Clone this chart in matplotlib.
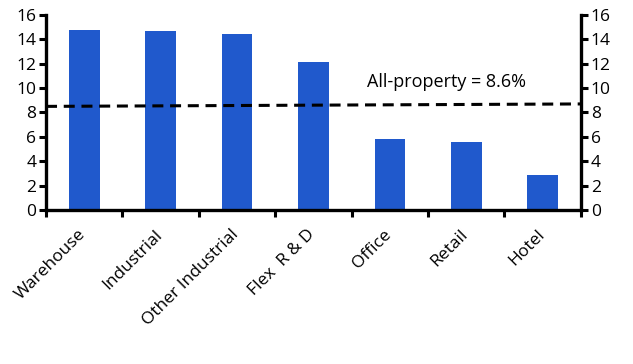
import matplotlib
matplotlib.use("Agg")
import matplotlib.pyplot as plt
import matplotlib.transforms as mtransforms
import numpy as np

# データ
categories = ["Warehouse", "Industrial", "Other Industrial", "Flex  R & D",
              "Office", "Retail", "Hotel"]
values = [14.8, 14.7, 14.4, 12.1, 5.8, 5.6, 2.9]
all_property_ends = [8.5, 8.7]
all_property_label = "All-property = 8.6%"
yticks = [0, 2, 4, 6, 8, 10, 12, 14, 16]

plt.rcParams['font.family'] = ['Open Sans', 'DejaVu Sans']

fig = plt.figure(figsize=(6.33, 3.64), dpi=100)
ax = fig.add_axes([0.0727, 0.423, 0.845, 0.536])

x = np.arange(len(categories))
ax.bar(x, values, width=0.4, color="#2059cc", zorder=2)

# 全体平均の破線
ax.plot([-0.5, len(categories) - 0.5], all_property_ends, color="black",
        lw=2.2, dashes=(3.6, 2.2), zorder=3)
ax.text(4.74, 10.5, all_property_label, fontsize=13, ha="center", va="center")

ax.set_xlim(-0.5, len(categories) - 0.5)
ax.set_ylim(0, 16)
ax.set_yticks(yticks)
ax.set_yticklabels([str(t) for t in yticks], fontsize=12.5)

ax.set_xticks(np.arange(-0.5, len(categories), 1.0))
ax.set_xticklabels([])
ax.set_xticks(x, minor=True)
ax.set_xticklabels(categories, minor=True, rotation=45, ha="right",
                   fontsize=12.5)
ax.tick_params(axis="x", which="major", direction="out", length=5, width=2.2)
ax.tick_params(axis="x", which="minor", length=0, pad=12)
ax.tick_params(axis="y", direction="out", length=5, width=2.2, pad=2)

# ラベルを少し右へずらす
offset = mtransforms.ScaledTranslation(5 / 100, 0, fig.dpi_scale_trans)
for lbl in ax.get_xticklabels(minor=True):
    lbl.set_transform(lbl.get_transform() + offset)

for s in ["top", "right"]:
    ax.spines[s].set_visible(False)
for s in ["left", "bottom"]:
    ax.spines[s].set_linewidth(2.4)

ax2 = ax.twinx()
ax2.set_ylim(0, 16)
ax2.set_yticks(yticks)
ax2.set_yticklabels([str(t) for t in yticks], fontsize=12.5)
ax2.tick_params(axis="y", direction="out", length=5, width=2.2, pad=2)
for s in ["top", "left", "bottom"]:
    ax2.spines[s].set_visible(False)
ax2.spines["right"].set_linewidth(2.4)

plt.savefig("out.png", dpi=100)
